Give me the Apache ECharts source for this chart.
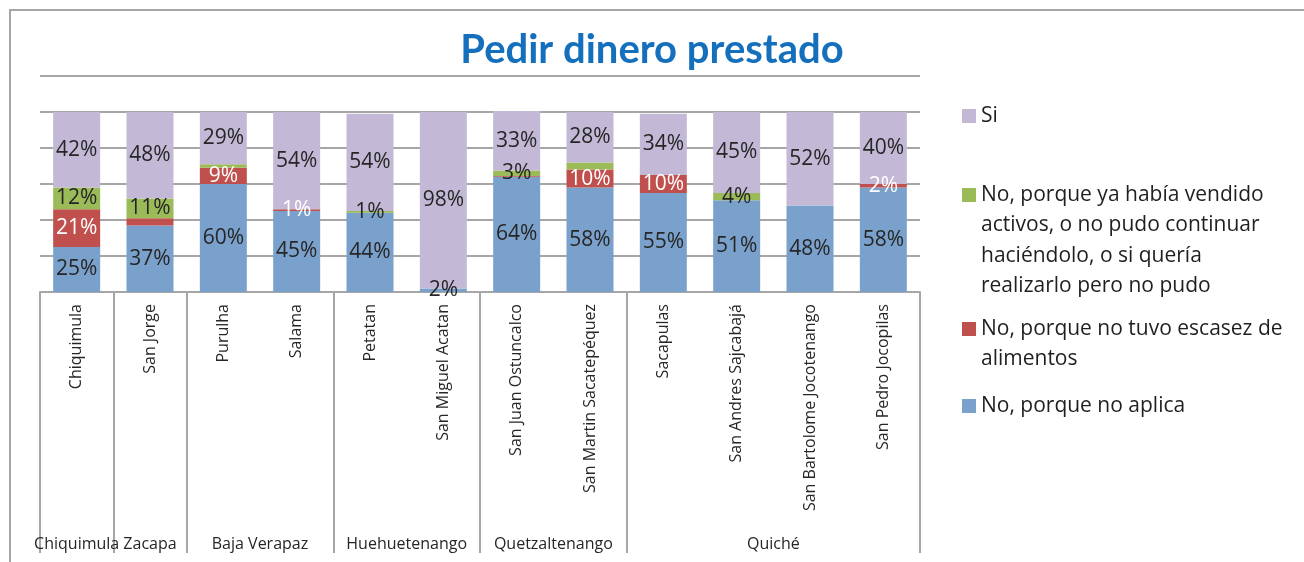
<!DOCTYPE html>
<html>
<head>
<meta charset="utf-8">
<script src="https://cdn.jsdelivr.net/npm/echarts@6/dist/echarts.min.js"></script>
<style>
html,body{margin:0;padding:0;background:#fff;}
#chart{width:1304px;height:562px;}
</style>
</head>
<body>
<div id="chart"></div>
<script>
// ---- Data ----
const categories = ['Chiquimula','San Jorge','Purulha','Salama','Petatan','San Miguel Acatan','San Juan Ostuncalco','San Martin Sacatepéquez','Sacapulas','San Andres Sajcabajá','San Bartolome Jocotenango','San Pedro Jocopilas'];
const groups = ['Chiquimula','Zacapa','Baja Verapaz','Huehuetenango','Quetzaltenango','Quiché'];
const groupSizes = [1,1,2,2,2,4];
const seriesNames = ['No, porque no aplica','No, porque no tuvo escasez de alimentos','No, porque ya había vendido activos, o no pudo continuar haciéndolo, o si quería realizarlo pero no pudo','Si'];
const noAplica  = [25,37,60,45,44,2,64,58,55,51,48,58];
const noEscasez = [21,4,9,1,0,0,0.5,10,10,0,0,2];
const vendido   = [12,11,2,0,1,0,3,4,0,4,0,0];
const si        = [42,48,29,54,54,98,33,28,34,45,52,40];
// labels not shown in the original (category indices)
const hiddenLabels = [[],[1,6],[2,7],[]];
const legendLines = {
  'Si': ['Si'],
  'No, porque ya había vendido activos, o no pudo continuar haciéndolo, o si quería realizarlo pero no pudo': ['No, porque ya había vendido','activos, o no pudo continuar','haciéndolo, o si quería','realizarlo pero no pudo'],
  'No, porque no tuvo escasez de alimentos': ['No, porque no tuvo escasez de','alimentos'],
  'No, porque no aplica': ['No, porque no aplica']
};

// ---- Build ----
const FONT = 'Open Sans';
const colors = ['#7aa0cc','#c0504d','#9bbb59','#c3b9d6'];
const labelColors = ['#262626','#ffffff','#262626','#262626'];
const values = [noAplica, noEscasez, vendido, si];

const bounds = [0];
groupSizes.forEach(s => bounds.push(bounds[bounds.length-1] + s));
const centers = groups.map((g,i) => (bounds[i] + bounds[i+1]) / 2);

const series = values.map((arr, k) => ({
  name: seriesNames[k],
  type: 'bar',
  stack: 'total',
  xAxisIndex: 0,
  barWidth: 47,
  itemStyle: { color: colors[k] },
  label: {
    show: true,
    position: 'inside',
    fontFamily: FONT,
    fontSize: 21,
    color: labelColors[k],
    formatter: p => (p.value > 0 ? Math.round(p.value) + '%' : '')
  },
  data: arr.map((v, i) => hiddenLabels[k].includes(i) ? { value: v, label: { show: false } } : v)
}));

const legendOrder = [3,2,1,0];
const legendCenters = [116,195,329,406];
const LH = 30.5;
const SQ = 14;
const legends = legendOrder.map((k, j) => {
  const name = seriesNames[k];
  const n = legendLines[name].length;
  const H = n * LH;
  const s0 = LH / 2 - SQ / 2;
  // square at the first line, tiny invisible dots span the whole text height
  const icon = `path://M0,0h0.01v0.01h-0.01zM0,${s0}h${SQ}v${SQ}h-${SQ}zM${SQ - 0.01},${H - 0.01}h0.01v0.01h-0.01z`;
  return {
    data: [name],
    orient: 'vertical',
    left: 962,
    top: legendCenters[j] - LH / 2,
    padding: 0,
    itemWidth: SQ,
    itemHeight: H,
    icon: icon,
    symbolKeepAspect: false,
    selectedMode: false,
    formatter: nm => legendLines[nm].join('\n'),
    textStyle: {
      fontFamily: FONT,
      fontSize: 21,
      color: '#1f1f1f',
      lineHeight: LH
    }
  };
});

const chart = echarts.init(document.getElementById('chart'));
chart.setOption({
  animation: false,
  backgroundColor: '#ffffff',
  title: {
    text: 'Pedir dinero prestado',
    left: 'center',
    top: 25,
    textStyle: { fontFamily: 'Lato', fontWeight: 'bold', fontSize: 40, color: '#1470bd' }
  },
  legend: legends,
  grid: { left: 40, right: 384, top: 76, bottom: 270, containLabel: false, outerBoundsMode: 'none' },
  xAxis: [
    {
      type: 'category',
      data: categories,
      position: 'bottom',
      axisLine: { show: true, lineStyle: { color: '#a6a6a6', width: 2 } },
      axisTick: { show: false },
      axisLabel: { interval: 0, rotate: 90, margin: 12, fontFamily: FONT, fontSize: 16, color: '#262626' }
    },
    {
      type: 'value',
      min: 0,
      max: 12,
      position: 'bottom',
      axisLine: { show: false },
      splitLine: { show: false },
      axisTick: { show: true, customValues: bounds, length: 261, lineStyle: { color: '#a6a6a6', width: 2 } },
      axisLabel: {
        show: true,
        customValues: centers,
        margin: 244,
        fontFamily: FONT,
        fontSize: 16,
        color: '#262626',
        formatter: v => { const i = centers.findIndex(c => Math.abs(c - v) < 1e-6); return i >= 0 ? groups[i] : ''; }
      }
    }
  ],
  yAxis: {
    type: 'value',
    min: 0,
    max: 120,
    interval: 20,
    axisLabel: { show: false },
    axisLine: { show: false },
    axisTick: { show: false },
    splitLine: { show: true, lineStyle: { color: '#a6a6a6', width: 2 } }
  },
  graphic: [{
    type: 'rect',
    silent: true,
    z: -10,
    shape: { x: 10, y: 10, width: 1300, height: 560 },
    style: { fill: 'none', stroke: '#a6a6a6', lineWidth: 2 }
  }],
  series: series
});
</script>
</body>
</html>
